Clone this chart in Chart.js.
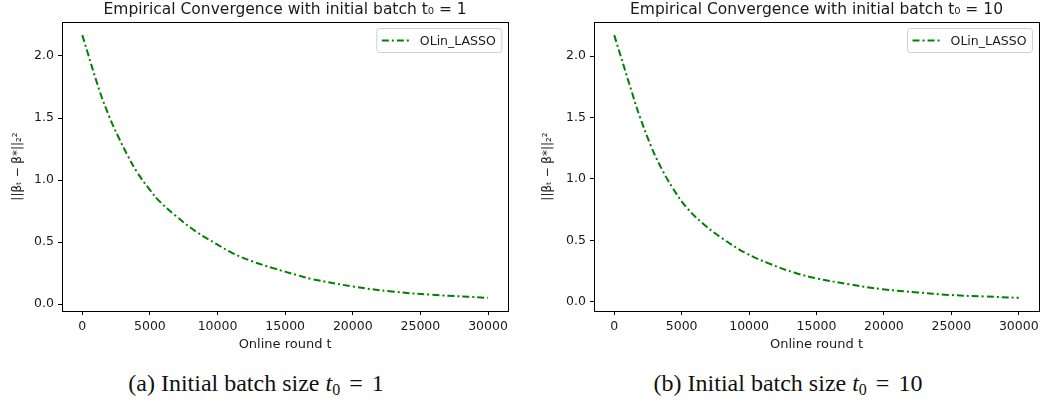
<!DOCTYPE html>
<html>
<head>
<meta charset="utf-8">
<script src="https://cdn.jsdelivr.net/npm/chart.js@4.4.1/dist/chart.umd.min.js"></script>
<style>
  body { margin: 0; background: #fff; width: 1045px; height: 404px; position: relative; overflow: hidden; }
  .panel { position: absolute; top: 0; }
  .caption { position: absolute; top: 369px; width: 512px; text-align: center;
             font-family: "Liberation Serif", serif; font-size: 24px; line-height: 28px; color: #111; }
  .caption sub { font-size: 16px; vertical-align: -4px; line-height: 0; }
  .caption .eq { margin: 0 9px; }
</style>
</head>
<body>
<div class="panel" style="left:0"><canvas id="chartA" width="520" height="360"></canvas></div>
<div class="panel" style="left:530px"><canvas id="chartB" width="515" height="360"></canvas></div>
<div class="caption" style="left:0">(a)&nbsp;Initial batch size <i>t</i><sub>0</sub><span class="eq">=</span>1</div>
<div class="caption" style="left:532px">(b)&nbsp;Initial batch size <i>t</i><sub>0</sub><span class="eq">=</span>10</div>
<script>
// values
const roundsA = [0, 1300, 2000, 2600, 3400, 4100, 5000, 5700, 6900, 8400, 9900, 11100, 12600, 14100, 16000, 17000, 20000, 22900, 25900, 29999];
const errA = [2.168, 1.712, 1.51, 1.363, 1.188, 1.055, 0.92, 0.83, 0.712, 0.585, 0.486, 0.411, 0.343, 0.29, 0.23, 0.201, 0.142, 0.101, 0.075, 0.05];

const roundsB = [0, 1300, 1900, 2750, 3500, 4350, 5300, 6550, 8000, 9750, 11450, 13400, 15000, 17500, 19900, 22500, 24800, 27500, 29999];
const errB = [2.17, 1.709, 1.505, 1.261, 1.085, 0.923, 0.775, 0.638, 0.516, 0.396, 0.312, 0.235, 0.19, 0.14, 0.101, 0.075, 0.055, 0.042, 0.031];

const xTicks = [0, 5000, 10000, 15000, 20000, 25000, 30000];
const yTicks = [0.0, 0.5, 1.0, 1.5, 2.0];

const seriesLabel = 'OLin_LASSO';
const lineColor = '#008000';
const dashDot = [7, 3, 2, 3];

const FONT = '"DejaVu Sans", sans-serif';

// frame round the plot, like matplotlib spines
const frame =
{
    id: 'frame',
    afterDraw(chart)
    {
        const a = chart.chartArea;
        const ctx = chart.ctx;
        ctx.save();
        ctx.strokeStyle = '#000';
        ctx.lineWidth = 1;
        ctx.strokeRect(Math.round(a.left) + 0.5, Math.round(a.top) + 0.5,
                       Math.round(a.right - a.left), Math.round(a.bottom - a.top));
        ctx.restore();
    }
};

// legend drawn inside the plot, upper right
const innerLegend =
{
    id: 'innerLegend',
    afterDraw(chart)
    {
        const ds = chart.data.datasets[0];
        const a = chart.chartArea;
        const ctx = chart.ctx;
        ctx.save();
        ctx.font = '12.5px ' + FONT;
        const tw = ctx.measureText(ds.label).width;
        const w = 5 + 27 + 11 + tw + 6;
        const h = 24;
        const x = a.right - 6.5 - w;
        const y = a.top + 6.5;
        ctx.beginPath();
        ctx.roundRect(x, y, w, h, 3);
        ctx.fillStyle = 'rgba(255,255,255,0.8)';
        ctx.fill();
        ctx.strokeStyle = '#d0d0d0';
        ctx.lineWidth = 1;
        ctx.stroke();

        ctx.beginPath();
        ctx.setLineDash(ds.borderDash);
        ctx.strokeStyle = ds.borderColor;
        ctx.lineWidth = ds.borderWidth;
        ctx.moveTo(x + 5, y + h / 2);
        ctx.lineTo(x + 32, y + h / 2);
        ctx.stroke();
        ctx.setLineDash([]);

        ctx.fillStyle = '#1a1a1a';
        ctx.textBaseline = 'middle';
        ctx.fillText(ds.label, x + 43, y + h / 2 + 1);
        ctx.restore();
    }
};

function makeChart(id, rounds, errs, titleText, yMin, yMax, yWidth, rightPad)
{
    const points = rounds.map((r, i) => ({ x: r, y: errs[i] }));

    return new Chart(document.getElementById(id),
    {
        type: 'line',
        data:
        {
            datasets:
            [
                {
                    label: seriesLabel,
                    data: points,
                    borderColor: lineColor,
                    backgroundColor: lineColor,
                    borderWidth: 2,
                    borderDash: dashDot,
                    pointRadius: 0,
                    tension: 0.4,
                    fill: false
                }
            ]
        },
        options:
        {
            responsive: false,
            animation: false,
            layout: { padding: { left: 0, right: rightPad, top: 0, bottom: 0 } },
            plugins:
            {
                legend: { display: false },
                tooltip: { enabled: false },
                title:
                {
                    display: true,
                    text: titleText,
                    fullSize: false,
                    color: '#1a1a1a',
                    font: { family: FONT, size: 15.5, weight: 'normal', lineHeight: 1.2 },
                    padding: { top: 1, bottom: 2.4 }
                }
            },
            scales:
            {
                x:
                {
                    type: 'linear',
                    min: -1500,
                    max: 31500,
                    afterBuildTicks: s => { s.ticks = xTicks.map(v => ({ value: v })); },
                    afterFit: s => { s.height = 49; },
                    grid: { drawOnChartArea: false, drawTicks: true, tickLength: 4, tickColor: '#000' },
                    border: { display: false },
                    ticks: { color: '#1a1a1a', font: { family: FONT, size: 12.5 }, padding: 4, maxRotation: 0,
                             callback: v => String(v) },
                    title: { display: true, text: 'Online round t', color: '#1a1a1a',
                             font: { family: FONT, size: 13 }, padding: { top: 0, bottom: 8 } }
                },
                y:
                {
                    type: 'linear',
                    min: yMin,
                    max: yMax,
                    afterBuildTicks: s => { s.ticks = yTicks.map(v => ({ value: v })); },
                    afterFit: s => { s.width = yWidth; },
                    grid: { drawOnChartArea: false, drawTicks: true, tickLength: 4, tickColor: '#000' },
                    border: { display: false },
                    ticks: { color: '#1a1a1a', font: { family: FONT, size: 12.5 }, padding: 4,
                             callback: v => v.toFixed(1) },
                    title: { display: true, text: '||βₜ − β*||₂²', color: '#1a1a1a',
                             font: { family: FONT, size: 12 }, padding: { top: 11, bottom: 0 } }
                }
            }
        },
        plugins: [frame, innerLegend]
    });
}

makeChart('chartA', roundsA, errA, 'Empirical Convergence with initial batch t₀ = 1', -0.056, 2.274, 62, 11.7);
makeChart('chartB', roundsB, errB, 'Empirical Convergence with initial batch t₀ = 10', -0.076, 2.277, 64, 6);
</script>
</body>
</html>
